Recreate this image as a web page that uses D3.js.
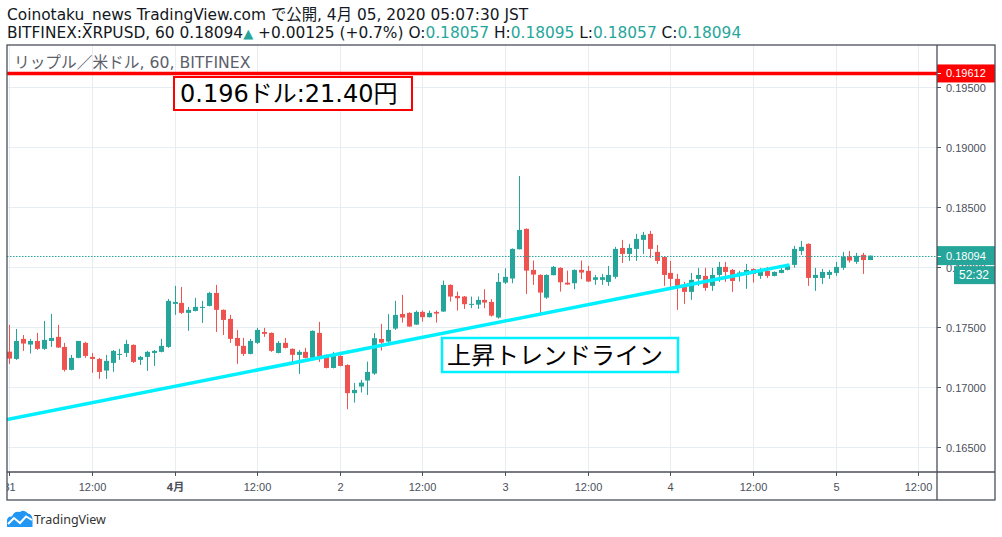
<!DOCTYPE html>
<html>
<head>
<meta charset="utf-8">
<script src="https://cdn.jsdelivr.net/npm/d3@7"></script>
<style>
  body { margin: 0; background: #fff; }
  svg { display: block; }
</style>
</head>
<body>
<script>
// hourly candles, BITFINEX:XRPUSD 60, first candle = 2020-03-31 00:00 (JST)
const startTime = Date.UTC(2020, 2, 31, 0);
const opens = [
  0.17294, 0.17233, 0.17400, 0.17353, 0.17383, 0.17317, 0.17383, 0.17417, 0.17333, 0.17142,
  0.17242, 0.17367, 0.17250, 0.17233, 0.17136, 0.17200, 0.17267, 0.17283, 0.17350, 0.17225,
  0.17250, 0.17283, 0.17292, 0.17333, 0.17692, 0.17700, 0.17617, 0.17633, 0.17658, 0.17675,
  0.17783, 0.17642, 0.17567, 0.17408, 0.17342, 0.17275, 0.17367, 0.17458, 0.17450, 0.17283,
  0.17367, 0.17317, 0.17267, 0.17292, 0.17242, 0.17450, 0.17267, 0.17158, 0.17258, 0.17183,
  0.16948, 0.17003, 0.17053, 0.17111, 0.17400, 0.17378, 0.17486, 0.17608, 0.17617, 0.17519,
  0.17625, 0.17581, 0.17625, 0.17628, 0.17850, 0.17758, 0.17753, 0.17686, 0.17686, 0.17725,
  0.17708, 0.17578, 0.17869, 0.17903, 0.18147, 0.18317, 0.17975, 0.17933, 0.17744, 0.17931,
  0.17992, 0.17869, 0.17864, 0.17975, 0.17967, 0.17892, 0.17892, 0.17875, 0.17917, 0.18158,
  0.18108, 0.18150, 0.18225, 0.18275, 0.18125, 0.18083, 0.17950, 0.17900, 0.17833, 0.17792,
  0.17900, 0.17925, 0.17842, 0.17933, 0.18000, 0.17975, 0.17925, 0.17933, 0.17983, 0.17925,
  0.17967, 0.17925, 0.17950, 0.17975, 0.18017, 0.18133, 0.18192, 0.17908, 0.17908, 0.17933,
  0.17950, 0.17992, 0.18086, 0.18042, 0.18100, 0.18057
];
const highs = [
  0.17517, 0.17483, 0.17433, 0.17400, 0.17450, 0.17550, 0.17608, 0.17517, 0.17367, 0.17267,
  0.17383, 0.17375, 0.17283, 0.17242, 0.17267, 0.17308, 0.17317, 0.17392, 0.17354, 0.17258,
  0.17300, 0.17308, 0.17400, 0.17733, 0.17842, 0.17833, 0.17667, 0.17742, 0.17717, 0.17792,
  0.17850, 0.17646, 0.17600, 0.17475, 0.17408, 0.17400, 0.17492, 0.17492, 0.17454, 0.17383,
  0.17408, 0.17321, 0.17308, 0.17325, 0.17471, 0.17542, 0.17271, 0.17292, 0.17292, 0.17188,
  0.17033, 0.17058, 0.17211, 0.17448, 0.17525, 0.17606, 0.17717, 0.17767, 0.17621, 0.17636,
  0.17636, 0.17636, 0.17636, 0.17886, 0.17854, 0.17794, 0.17758, 0.17753, 0.17753, 0.17814,
  0.17731, 0.17948, 0.17989, 0.18154, 0.18758, 0.18321, 0.18053, 0.17938, 0.17938, 0.18008,
  0.17996, 0.17969, 0.17979, 0.18053, 0.18008, 0.17933, 0.17942, 0.18008, 0.18167, 0.18225,
  0.18192, 0.18275, 0.18292, 0.18300, 0.18183, 0.18088, 0.18050, 0.17942, 0.17875, 0.17950,
  0.17992, 0.17992, 0.17992, 0.18042, 0.18042, 0.17983, 0.17967, 0.18025, 0.17988, 0.17992,
  0.18000, 0.17963, 0.17992, 0.18025, 0.18175, 0.18217, 0.18196, 0.17992, 0.17983, 0.17975,
  0.18042, 0.18125, 0.18133, 0.18117, 0.18117, 0.18095
];
const lows = [
  0.17192, 0.17225, 0.17300, 0.17278, 0.17308, 0.17308, 0.17333, 0.17325, 0.17128, 0.17138,
  0.17238, 0.17242, 0.17117, 0.17067, 0.17067, 0.17125, 0.17225, 0.17250, 0.17200, 0.17183,
  0.17133, 0.17175, 0.17288, 0.17325, 0.17600, 0.17608, 0.17467, 0.17629, 0.17533, 0.17671,
  0.17458, 0.17433, 0.17367, 0.17192, 0.17258, 0.17271, 0.17358, 0.17417, 0.17292, 0.17279,
  0.17321, 0.17208, 0.17108, 0.17238, 0.17233, 0.17208, 0.17154, 0.17154, 0.17171, 0.16814,
  0.16869, 0.16953, 0.16933, 0.17100, 0.17303, 0.17356, 0.17475, 0.17536, 0.17500, 0.17517,
  0.17544, 0.17579, 0.17536, 0.17625, 0.17711, 0.17636, 0.17650, 0.17656, 0.17650, 0.17656,
  0.17586, 0.17569, 0.17858, 0.17864, 0.18146, 0.17775, 0.17850, 0.17608, 0.17733, 0.17929,
  0.17794, 0.17850, 0.17814, 0.17898, 0.17875, 0.17850, 0.17850, 0.17842, 0.17900, 0.18033,
  0.18050, 0.18050, 0.18108, 0.18075, 0.18025, 0.17842, 0.17808, 0.17642, 0.17692, 0.17725,
  0.17842, 0.17800, 0.17800, 0.17875, 0.17875, 0.17792, 0.17878, 0.17817, 0.17869, 0.17900,
  0.17908, 0.17921, 0.17946, 0.17971, 0.17994, 0.18100, 0.17842, 0.17800, 0.17858, 0.17900,
  0.17925, 0.17975, 0.18036, 0.18025, 0.17942, 0.18057
];
const closes = [
  0.17236, 0.17383, 0.17361, 0.17383, 0.17317, 0.17392, 0.17408, 0.17328, 0.17142, 0.17242,
  0.17383, 0.17258, 0.17233, 0.17125, 0.17217, 0.17300, 0.17275, 0.17358, 0.17208, 0.17250,
  0.17292, 0.17300, 0.17342, 0.17717, 0.17708, 0.17617, 0.17642, 0.17667, 0.17667, 0.17783,
  0.17642, 0.17558, 0.17400, 0.17342, 0.17275, 0.17383, 0.17475, 0.17442, 0.17300, 0.17367,
  0.17325, 0.17267, 0.17292, 0.17242, 0.17467, 0.17250, 0.17158, 0.17258, 0.17175, 0.16948,
  0.16975, 0.17036, 0.17125, 0.17406, 0.17369, 0.17475, 0.17600, 0.17578, 0.17503, 0.17625,
  0.17581, 0.17617, 0.17611, 0.17850, 0.17753, 0.17739, 0.17689, 0.17692, 0.17725, 0.17703,
  0.17594, 0.17875, 0.17917, 0.18150, 0.18308, 0.17969, 0.17936, 0.17786, 0.17933, 0.18000,
  0.17872, 0.17853, 0.17975, 0.17953, 0.17878, 0.17914, 0.17914, 0.17933, 0.18150, 0.18108,
  0.18158, 0.18233, 0.18267, 0.18150, 0.18050, 0.17933, 0.17900, 0.17842, 0.17792, 0.17892,
  0.17933, 0.17825, 0.17933, 0.18000, 0.17958, 0.17883, 0.17953, 0.17975, 0.17942, 0.17975,
  0.17925, 0.17958, 0.17975, 0.18008, 0.18150, 0.18167, 0.17908, 0.17933, 0.17958, 0.17958,
  0.18000, 0.18083, 0.18053, 0.18092, 0.18057, 0.18094
];

const priceTicks = [0.165, 0.170, 0.175, 0.180, 0.185, 0.190, 0.195];
const resistance = 0.19612;
const lastClose = 0.18094;
const countdown = "52:32";
// trend line anchors: hours from startTime, price
const trendHours = [-0.33, 113.3];
const trendPrices = [0.16729, 0.18017];

const W = 1002, H = 537;
const pane = { left: 7, top: 45, right: 937, bottom: 472 };
const frameRight = 995, frameBottom = 500;

const green = "#26a69a", red = "#ef5350", grid = "#e6edf3", axisCol = "#4b4f5a";
const cjk = "'Noto Sans', 'Noto Sans CJK JP', sans-serif";
const wide = "'DejaVu Sans', 'Noto Sans CJK JP', sans-serif";
const axisFont = "'Liberation Sans', Arial, sans-serif";

const hour = 3600 * 1000;
const candles = opens.map((o, i) => ({
  t: new Date(startTime + i * hour), o, h: highs[i], l: lows[i], c: closes[i]
}));

const x = d3.scaleUtc()
  .domain([new Date(startTime), new Date(Date.UTC(2020, 3, 5, 12))])
  .range([9.3, 918.3]);
const y = d3.scaleLinear().domain([0.165, 0.195]).range([446.9, 86.9]);

const svg = d3.select("body").append("svg")
  .attr("width", W).attr("height", H)
  .style("font-family", cjk);

svg.append("rect").attr("width", W).attr("height", H).attr("fill", "#fff");

// header
svg.append("text").attr("x", 7).attr("y", 20)
  .attr("font-size", 15.4).attr("fill", "#131722").attr("font-family", wide)
  .text("Coinotaku_news TradingView.com で公開, 4月 05, 2020 05:07:30 JST");

const hdr = svg.append("text").attr("x", 7).attr("y", 38)
  .attr("font-size", 15.4).attr("fill", "#131722").attr("font-family", wide);
const parts = [
  ["BITFINEX:XRPUSD, 60 0.18094", null], ["▲", green], [" +0.00125 (+0.7%) O:", null],
  ["0.18057", green], [" H:", null], ["0.18095", green], [" L:", null],
  ["0.18057", green], [" C:", null], ["0.18094", green]
];
parts.forEach(([s, col]) => {
  const ts = hdr.append("tspan").text(s);
  if (col) ts.attr("fill", col);
  if (s === "▲") ts.attr("font-size", 13);
});

// clip for plot area
svg.append("clipPath").attr("id", "pane")
  .append("rect")
  .attr("x", pane.left).attr("y", pane.top)
  .attr("width", pane.right - pane.left).attr("height", pane.bottom - pane.top);

const plot = svg.append("g").attr("clip-path", "url(#pane)");

const timeTicks = d3.utcHour.every(12).range(new Date(startTime), new Date(Date.UTC(2020, 3, 5, 13)));

// grid
plot.selectAll(".vg").data(timeTicks).join("line")
  .attr("x1", d => Math.round(x(d)) + 0.5).attr("x2", d => Math.round(x(d)) + 0.5)
  .attr("y1", pane.top).attr("y2", pane.bottom)
  .attr("stroke", grid);
plot.selectAll(".hg").data(priceTicks).join("line")
  .attr("x1", pane.left).attr("x2", pane.right)
  .attr("y1", d => Math.round(y(d)) + 0.5).attr("y2", d => Math.round(y(d)) + 0.5)
  .attr("stroke", grid);

// candles
const cg = plot.append("g");
cg.selectAll("line").data(candles).join("line")
  .attr("x1", d => Math.round(x(d.t)) + 0.5).attr("x2", d => Math.round(x(d.t)) + 0.5)
  .attr("y1", d => y(d.h)).attr("y2", d => y(d.l))
  .attr("stroke", d => d.c >= d.o ? green : red);
cg.selectAll("rect").data(candles).join("rect")
  .attr("x", d => Math.round(x(d.t)) - 2)
  .attr("width", 5)
  .attr("y", d => y(Math.max(d.o, d.c)))
  .attr("height", d => Math.max(1, y(Math.min(d.o, d.c)) - y(Math.max(d.o, d.c))))
  .attr("fill", d => d.c >= d.o ? green : red);

// last price dotted line
plot.append("line")
  .attr("x1", pane.left).attr("x2", pane.right)
  .attr("y1", Math.round(y(lastClose)) + 0.5).attr("y2", Math.round(y(lastClose)) + 0.5)
  .attr("stroke", green).attr("stroke-dasharray", "1.5,1.5");

// trend line
const trendLine = d3.line()
  .x(d => x(new Date(startTime + d[0] * hour)))
  .y(d => y(d[1]));
plot.append("path")
  .datum(trendHours.map((h, i) => [h, trendPrices[i]]))
  .attr("d", trendLine)
  .attr("fill", "none").attr("stroke", "#00f0ff").attr("stroke-width", 3.5);

// resistance line
plot.append("line")
  .attr("x1", pane.left).attr("x2", pane.right)
  .attr("y1", y(resistance)).attr("y2", y(resistance))
  .attr("stroke", "#ff0000").attr("stroke-width", 3.5);

// pane legend
plot.append("text").attr("x", 14).attr("y", 68)
  .attr("font-size", 15.7).attr("fill", "#5d606b").attr("font-family", wide)
  .text("リップル／米ドル, 60, BITFINEX");

// annotations
const note1 = svg.append("g");
note1.append("rect").attr("x", 174).attr("y", 77).attr("width", 238).attr("height", 33)
  .attr("fill", "#fff").attr("stroke", "#ff0000").attr("stroke-width", 2);
note1.append("text").attr("x", 180).attr("y", 102)
  .attr("font-size", 24).attr("fill", "#000").attr("font-family", wide)
  .text("0.196ドル:21.40円");

const note2 = svg.append("g");
note2.append("rect").attr("x", 442).attr("y", 338).attr("width", 236).attr("height", 34)
  .attr("fill", "#fff").attr("stroke", "#00f0ff").attr("stroke-width", 2.5);
note2.append("text").attr("x", 447).attr("y", 364)
  .attr("font-size", 24).attr("fill", "#000")
  .text("上昇トレンドライン");

// price axis
const pa = svg.append("g").attr("font-family", axisFont).attr("font-size", 11).attr("fill", axisCol);
priceTicks.forEach(p => {
  const yy = Math.round(y(p)) + 0.5;
  pa.append("line").attr("x1", pane.right).attr("x2", pane.right + 4)
    .attr("y1", yy).attr("y2", yy).attr("stroke", axisCol);
  pa.append("text").attr("x", 946).attr("y", yy + 4).text(d3.format(".5f")(p));
});

// price labels
function priceLabel(val, txt, col, x0, top, h) {
  const g = svg.append("g");
  g.append("rect").attr("x", x0).attr("y", top).attr("width", frameRight - x0).attr("height", h).attr("fill", col);
  if (x0 === pane.right) {
    g.append("line").attr("x1", pane.right).attr("x2", pane.right + 4)
      .attr("y1", Math.round(y(val)) + 0.5).attr("y2", Math.round(y(val)) + 0.5).attr("stroke", "#fff");
  }
  g.append("text").attr("x", x0 === pane.right ? 946 : 959).attr("y", top + h / 2 + 4)
    .attr("font-family", axisFont).attr("font-size", x0 === pane.right ? 11 : 12)
    .attr("fill", "#fff").text(txt);
}
priceLabel(resistance, d3.format(".5f")(resistance), "#ff0000", pane.right, y(resistance) - 9, 18);
priceLabel(lastClose, d3.format(".5f")(lastClose), green, pane.right, y(lastClose) - 9.5, 19);
priceLabel(lastClose, countdown, green, 954, y(lastClose) + 10.5, 18);

// time axis
const ta = svg.append("g").attr("font-family", axisFont).attr("font-size", 11).attr("fill", axisCol);
svg.append("clipPath").attr("id", "taxis").append("rect")
  .attr("x", pane.left).attr("y", pane.bottom).attr("width", pane.right - pane.left).attr("height", frameBottom - pane.bottom);
const taClip = ta.attr("clip-path", "url(#taxis)");
const fmtTime = d => {
  if (d.getUTCHours() === 12) return "12:00";
  if (d.getUTCDate() === 1) return (d.getUTCMonth() + 1) + "月";
  return String(d.getUTCDate());
};
timeTicks.forEach(d => {
  const xx = Math.round(x(d)) + 0.5;
  taClip.append("line").attr("x1", xx).attr("x2", xx).attr("y1", pane.bottom).attr("y2", pane.bottom + 4)
    .attr("stroke", axisCol);
  const isMonth = d.getUTCHours() === 0 && d.getUTCDate() === 1;
  taClip.append("text").attr("x", xx).attr("y", 491).attr("text-anchor", "middle")
    .attr("font-weight", isMonth ? "bold" : "normal")
    .attr("font-family", isMonth ? cjk : axisFont)
    .text(fmtTime(d));
});

// frame
const frame = svg.append("g").attr("stroke", axisCol).attr("stroke-width", 1.3).attr("fill", "none");
frame.append("rect").attr("x", pane.left).attr("y", pane.top)
  .attr("width", frameRight - pane.left).attr("height", frameBottom - pane.top);
frame.append("line").attr("x1", pane.right).attr("x2", pane.right).attr("y1", pane.top).attr("y2", frameBottom);
frame.append("line").attr("x1", pane.left).attr("x2", frameRight).attr("y1", pane.bottom).attr("y2", pane.bottom);

// TradingView mark
const logo = svg.append("g");
logo.append("path")
  .attr("d", "M7,527 L7,521 Q7,516 12,516.5 Q14,510.5 20,512 Q24,509 28,513.5 Q33,514.5 32.5,521 L32.5,527 Z")
  .attr("fill", "#2196f3");
logo.append("polyline")
  .attr("points", "8,524 14,518 20,523 26,516.5 32,520")
  .attr("fill", "none").attr("stroke", "#fff").attr("stroke-width", 2);
logo.append("text").attr("x", 34).attr("y", 524)
  .attr("font-size", 12.5).attr("fill", "#333").attr("font-family", cjk)
  .text("TradingView");
</script>
</body>
</html>
